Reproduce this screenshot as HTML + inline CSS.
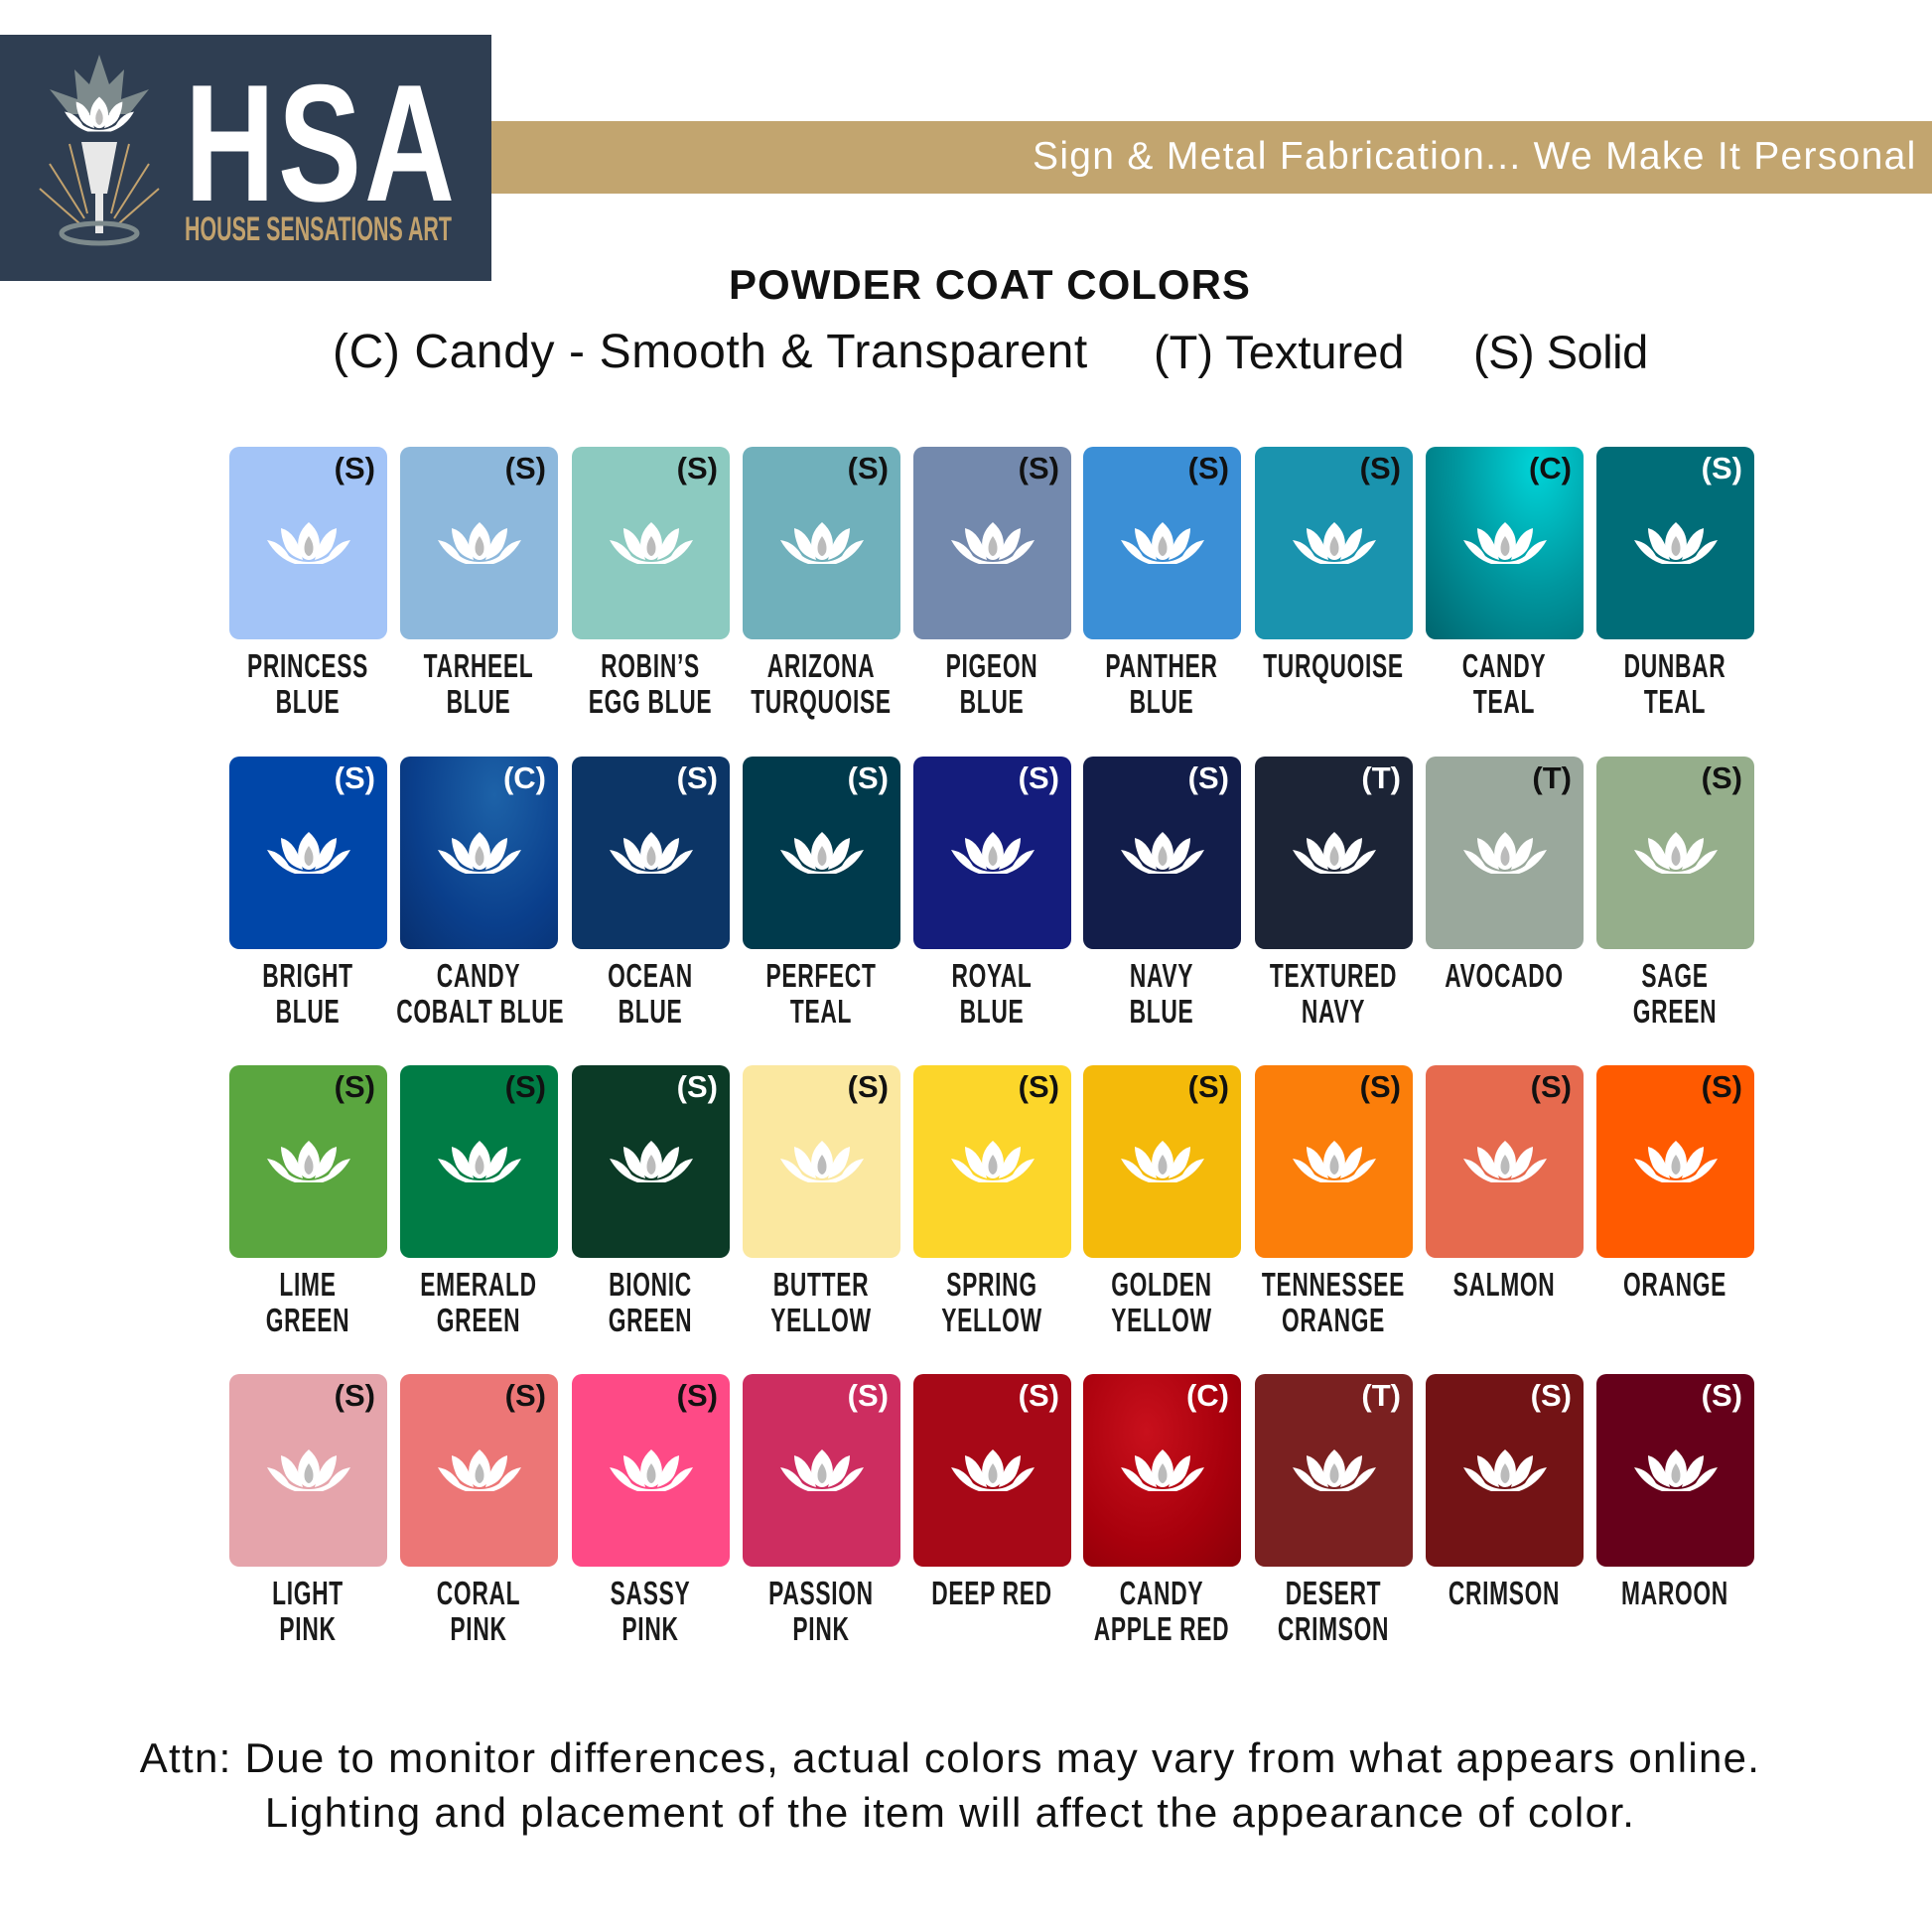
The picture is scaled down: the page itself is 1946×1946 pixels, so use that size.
<!DOCTYPE html>
<html><head><meta charset="utf-8"><style>
body{margin:0;width:1946px;height:1946px;background:#fff;position:relative;overflow:hidden;font-family:"Liberation Sans",sans-serif}
.a{position:absolute}
.sw{position:absolute;width:159px;height:194px;border-radius:10px}
.b{position:absolute;right:12px;top:4px;font:bold 31px "Liberation Sans",sans-serif;color:#111}
.lo{position:absolute;left:38px;top:76px;width:84px;height:42px}
.lb{position:absolute;width:240px;text-align:center;font:bold 33px/36px "Liberation Sans",sans-serif;color:#1a1a1a;transform:scaleX(0.69);letter-spacing:1px;white-space:nowrap}
</style></head><body>
<svg width="0" height="0" style="position:absolute"><defs><symbol id="lt" viewBox="0 0 84 42">
<path d="M0 18 Q14 20 22 34 Q30 40 42 40 Q54 40 62 34 Q70 20 84 18 Q74 36 56 42 L28 42 Q10 36 0 18Z" fill="#fff"/>
<path d="M14 6 Q30 10 36 38 Q22 34 18 24 Q14 14 14 6Z" fill="#fff"/>
<path d="M70 6 Q54 10 48 38 Q62 34 66 24 Q70 14 70 6Z" fill="#fff"/>
<path d="M42 0 Q56 12 52 30 Q48 38 42 38 Q36 38 32 30 Q28 12 42 0Z" fill="#fff"/>
<path d="M42 14 Q48 22 46 30 Q44 34 42 34 Q40 34 38 30 Q36 22 42 14Z" fill="#bbb"/>
</symbol></defs></svg>

<div class="a" style="left:0;top:35px;width:495px;height:248px;background:#2f3e52"></div>
<svg class="a" style="left:30px;top:55px" width="140" height="200" viewBox="0 0 140 200">
<path d="M70 0 L80 30 L95 15 L92 45 L120 35 L100 60 L40 60 L20 35 L48 45 L45 15 L60 30Z" fill="#7d8a8c"/>
<use href="#lt" x="35" y="40" width="70" height="40"/>
<path d="M52 88 L88 88 L78 140 L62 140Z" fill="#e8e8e8"/>
<rect x="66" y="140" width="8" height="40" fill="#e8e8e8"/>
<g stroke="#c2a26e" stroke-width="2"><line x1="40" y1="90" x2="58" y2="160"/><line x1="20" y1="110" x2="55" y2="165"/><line x1="10" y1="135" x2="50" y2="170"/><line x1="100" y1="90" x2="82" y2="160"/><line x1="120" y1="110" x2="85" y2="165"/><line x1="130" y1="135" x2="90" y2="170"/></g>
<ellipse cx="70" cy="180" rx="38" ry="10" fill="none" stroke="#7d8a8c" stroke-width="5"/>
</svg>
<div class="a" style="left:186px;top:60px;font:bold 168px/1 'Liberation Sans',sans-serif;color:#fff;transform:scaleX(0.75);transform-origin:0 0;letter-spacing:4px">HSA</div>
<div class="a" style="left:186px;top:214px;font:bold 34px/1 'Liberation Sans',sans-serif;color:#c2a26e;transform:scaleX(0.63);transform-origin:0 0;white-space:nowrap">HOUSE SENSATIONS ART</div>
<div class="a" style="left:495px;top:122px;width:1451px;height:73px;background:#c2a56f"></div>
<div class="a" style="left:1040px;top:138px;font:39px/1 'Liberation Sans',sans-serif;color:#fff;white-space:nowrap;letter-spacing:1.3px">Sign &amp; Metal Fabrication... We Make It Personal</div>

<div class="a" style="left:0;width:1946px;top:266px;text-align:center;text-indent:48px;font:bold 42px/1 'Liberation Sans',sans-serif;color:#111;letter-spacing:1px">POWDER COAT COLORS</div>
<div class="a" style="left:335px;top:331px;font:48px/1 'Liberation Sans',sans-serif;color:#111;white-space:nowrap;letter-spacing:0.6px">(C) Candy - Smooth &amp; Transparent</div>
<div class="a" style="left:1162px;top:331px;font:47px/1 'Liberation Sans',sans-serif;color:#111;white-space:nowrap">(T) Textured</div>
<div class="a" style="left:1484px;top:331px;font:47px/1 'Liberation Sans',sans-serif;color:#111;white-space:nowrap;letter-spacing:-0.5px">(S) Solid</div>

<div class="sw" style="left:231px;top:450px;background:#a3c4f7"><span class="b">(S)</span><svg class="lo"><use href="#lt"/></svg></div>
<div class="sw" style="left:403px;top:450px;background:#8db8dc"><span class="b">(S)</span><svg class="lo"><use href="#lt"/></svg></div>
<div class="sw" style="left:576px;top:450px;background:#8ccac0"><span class="b">(S)</span><svg class="lo"><use href="#lt"/></svg></div>
<div class="sw" style="left:748px;top:450px;background:#70b0bb"><span class="b">(S)</span><svg class="lo"><use href="#lt"/></svg></div>
<div class="sw" style="left:920px;top:450px;background:#7389ad"><span class="b">(S)</span><svg class="lo"><use href="#lt"/></svg></div>
<div class="sw" style="left:1091px;top:450px;background:#3b8fd6"><span class="b">(S)</span><svg class="lo"><use href="#lt"/></svg></div>
<div class="sw" style="left:1264px;top:450px;background:#1a93ae"><span class="b">(S)</span><svg class="lo"><use href="#lt"/></svg></div>
<div class="sw" style="left:1436px;top:450px;background:radial-gradient(ellipse at 70% 10%,#00d4d8,#00979f 50%,#00656e)"><span class="b">(C)</span><svg class="lo"><use href="#lt"/></svg></div>
<div class="sw" style="left:1608px;top:450px;background:#006d78"><span class="b" style="color:#fff">(S)</span><svg class="lo"><use href="#lt"/></svg></div>

<div class="sw" style="left:231px;top:762px;background:#0046a8"><span class="b" style="color:#fff">(S)</span><svg class="lo"><use href="#lt"/></svg></div>
<div class="sw" style="left:403px;top:762px;background:radial-gradient(ellipse at 60% 20%,#1d62a8,#0a3f8c 60%,#082f6e)"><span class="b" style="color:#fff">(C)</span><svg class="lo"><use href="#lt"/></svg></div>
<div class="sw" style="left:576px;top:762px;background:#0c3566"><span class="b" style="color:#fff">(S)</span><svg class="lo"><use href="#lt"/></svg></div>
<div class="sw" style="left:748px;top:762px;background:#003a4c"><span class="b" style="color:#fff">(S)</span><svg class="lo"><use href="#lt"/></svg></div>
<div class="sw" style="left:920px;top:762px;background:#141c7c"><span class="b" style="color:#fff">(S)</span><svg class="lo"><use href="#lt"/></svg></div>
<div class="sw" style="left:1091px;top:762px;background:#121d4a"><span class="b" style="color:#fff">(S)</span><svg class="lo"><use href="#lt"/></svg></div>
<div class="sw" style="left:1264px;top:762px;background:#1c2436"><span class="b" style="color:#fff">(T)</span><svg class="lo"><use href="#lt"/></svg></div>
<div class="sw" style="left:1436px;top:762px;background:#9aa89c"><span class="b">(T)</span><svg class="lo"><use href="#lt"/></svg></div>
<div class="sw" style="left:1608px;top:762px;background:#95ae8b"><span class="b">(S)</span><svg class="lo"><use href="#lt"/></svg></div>

<div class="sw" style="left:231px;top:1073px;background:#5aa63f"><span class="b">(S)</span><svg class="lo"><use href="#lt"/></svg></div>
<div class="sw" style="left:403px;top:1073px;background:#007c45"><span class="b">(S)</span><svg class="lo"><use href="#lt"/></svg></div>
<div class="sw" style="left:576px;top:1073px;background:#0b3a26"><span class="b" style="color:#fff">(S)</span><svg class="lo"><use href="#lt"/></svg></div>
<div class="sw" style="left:748px;top:1073px;background:#fbe8a0"><span class="b">(S)</span><svg class="lo"><use href="#lt"/></svg></div>
<div class="sw" style="left:920px;top:1073px;background:#fcd62a"><span class="b">(S)</span><svg class="lo"><use href="#lt"/></svg></div>
<div class="sw" style="left:1091px;top:1073px;background:#f4ba0a"><span class="b">(S)</span><svg class="lo"><use href="#lt"/></svg></div>
<div class="sw" style="left:1264px;top:1073px;background:#fb7e0a"><span class="b">(S)</span><svg class="lo"><use href="#lt"/></svg></div>
<div class="sw" style="left:1436px;top:1073px;background:#e66a4e"><span class="b">(S)</span><svg class="lo"><use href="#lt"/></svg></div>
<div class="sw" style="left:1608px;top:1073px;background:#ff5a00"><span class="b">(S)</span><svg class="lo"><use href="#lt"/></svg></div>

<div class="sw" style="left:231px;top:1384px;background:#e5a4ab"><span class="b">(S)</span><svg class="lo"><use href="#lt"/></svg></div>
<div class="sw" style="left:403px;top:1384px;background:#ec7676"><span class="b">(S)</span><svg class="lo"><use href="#lt"/></svg></div>
<div class="sw" style="left:576px;top:1384px;background:#fe4a86"><span class="b">(S)</span><svg class="lo"><use href="#lt"/></svg></div>
<div class="sw" style="left:748px;top:1384px;background:#cd2d60"><span class="b" style="color:#fff">(S)</span><svg class="lo"><use href="#lt"/></svg></div>
<div class="sw" style="left:920px;top:1384px;background:#a70817"><span class="b" style="color:#fff">(S)</span><svg class="lo"><use href="#lt"/></svg></div>
<div class="sw" style="left:1091px;top:1384px;background:radial-gradient(ellipse at 40% 30%,#c8101c,#a8000c 60%,#8a0008)"><span class="b" style="color:#fff">(C)</span><svg class="lo"><use href="#lt"/></svg></div>
<div class="sw" style="left:1264px;top:1384px;background:#7a2020"><span class="b" style="color:#fff">(T)</span><svg class="lo"><use href="#lt"/></svg></div>
<div class="sw" style="left:1436px;top:1384px;background:#731315"><span class="b" style="color:#fff">(S)</span><svg class="lo"><use href="#lt"/></svg></div>
<div class="sw" style="left:1608px;top:1384px;background:#66001a"><span class="b" style="color:#fff">(S)</span><svg class="lo"><use href="#lt"/></svg></div>

<div class="lb" style="left:190px;top:653px">PRINCESS<br>BLUE</div>
<div class="lb" style="left:362px;top:653px">TARHEEL<br>BLUE</div>
<div class="lb" style="left:535px;top:653px">ROBIN’S<br>EGG BLUE</div>
<div class="lb" style="left:707px;top:653px">ARIZONA<br>TURQUOISE</div>
<div class="lb" style="left:879px;top:653px">PIGEON<br>BLUE</div>
<div class="lb" style="left:1050px;top:653px">PANTHER<br>BLUE</div>
<div class="lb" style="left:1223px;top:653px">TURQUOISE</div>
<div class="lb" style="left:1395px;top:653px">CANDY<br>TEAL</div>
<div class="lb" style="left:1567px;top:653px">DUNBAR<br>TEAL</div>

<div class="lb" style="left:190px;top:965px">BRIGHT<br>BLUE</div>
<div class="lb" style="left:362px;top:965px">CANDY<br>COBALT BLUE</div>
<div class="lb" style="left:535px;top:965px">OCEAN<br>BLUE</div>
<div class="lb" style="left:707px;top:965px">PERFECT<br>TEAL</div>
<div class="lb" style="left:879px;top:965px">ROYAL<br>BLUE</div>
<div class="lb" style="left:1050px;top:965px">NAVY<br>BLUE</div>
<div class="lb" style="left:1223px;top:965px">TEXTURED<br>NAVY</div>
<div class="lb" style="left:1395px;top:965px">AVOCADO</div>
<div class="lb" style="left:1567px;top:965px">SAGE<br>GREEN</div>

<div class="lb" style="left:190px;top:1276px">LIME<br>GREEN</div>
<div class="lb" style="left:362px;top:1276px">EMERALD<br>GREEN</div>
<div class="lb" style="left:535px;top:1276px">BIONIC<br>GREEN</div>
<div class="lb" style="left:707px;top:1276px">BUTTER<br>YELLOW</div>
<div class="lb" style="left:879px;top:1276px">SPRING<br>YELLOW</div>
<div class="lb" style="left:1050px;top:1276px">GOLDEN<br>YELLOW</div>
<div class="lb" style="left:1223px;top:1276px">TENNESSEE<br>ORANGE</div>
<div class="lb" style="left:1395px;top:1276px">SALMON</div>
<div class="lb" style="left:1567px;top:1276px">ORANGE</div>

<div class="lb" style="left:190px;top:1587px">LIGHT<br>PINK</div>
<div class="lb" style="left:362px;top:1587px">CORAL<br>PINK</div>
<div class="lb" style="left:535px;top:1587px">SASSY<br>PINK</div>
<div class="lb" style="left:707px;top:1587px">PASSION<br>PINK</div>
<div class="lb" style="left:879px;top:1587px">DEEP RED</div>
<div class="lb" style="left:1050px;top:1587px">CANDY<br>APPLE RED</div>
<div class="lb" style="left:1223px;top:1587px">DESERT<br>CRIMSON</div>
<div class="lb" style="left:1395px;top:1587px">CRIMSON</div>
<div class="lb" style="left:1567px;top:1587px">MAROON</div>

<div class="a" style="left:0;width:1914px;top:1750px;text-align:center;font:42px/1 'Liberation Sans',sans-serif;color:#111;letter-spacing:1.3px;white-space:nowrap">Attn: Due to monitor differences, actual colors may vary from what appears online.</div>
<div class="a" style="left:0;width:1914px;top:1805px;text-align:center;font:42px/1 'Liberation Sans',sans-serif;color:#111;letter-spacing:1.3px;white-space:nowrap">Lighting and placement of the item will affect the appearance of color.</div>
</body></html>
